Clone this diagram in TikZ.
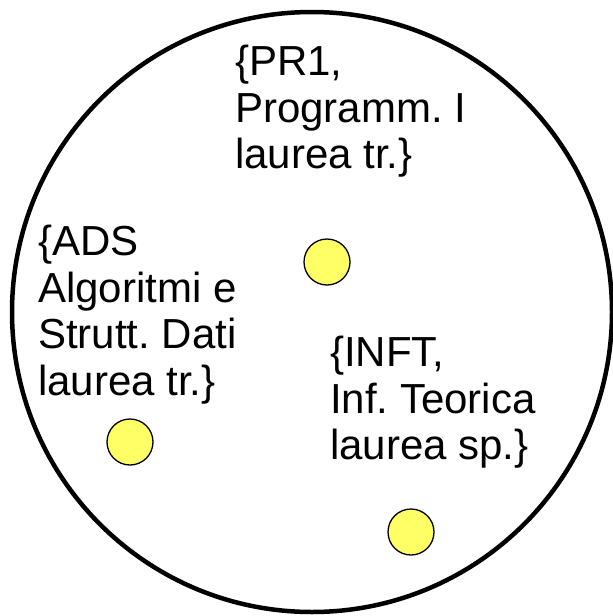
\documentclass[tikz,border=0pt]{standalone}
\usepackage{fontspec}
\setmainfont{Liberation Sans}
\usetikzlibrary{positioning}
\definecolor{DotYellow}{RGB}{255, 255, 102}
\frenchspacing

\begin{document}
\begin{tikzpicture}[x=1pt, y=-1pt,
    elem/.style={circle, draw=black, line width=1.3pt, fill=DotYellow, minimum size=46pt, inner sep=0pt},
    lab/.style={anchor=north west, inner sep=0pt, align=left, font=\fontsize{42}{46.5}\selectfont}]
    \useasboundingbox (0,0) rectangle (613,616);

    % Insieme dei corsi
    \draw[line width=4.5pt] (312,312) circle (300);

    % Elementi
    \node[elem] (pr) at (327,262) {};
    \node[elem] (ads) at (130,442) {};
    \node[elem] (inft) at (411,532) {};

    % Etichette
    \node[lab] (prlab) at (235,45) {\{PR1,\\Programm. I\\laurea tr.\}};
    \node[lab] (adslab) at (38,225) {\{ADS\\Algoritmi e\\Strutt. Dati\\laurea tr.\}};
    \node[lab] (inftlab) at (330,336) {\{INFT,\\Inf. Teorica\\laurea sp.\}};
\end{tikzpicture}
\end{document}
